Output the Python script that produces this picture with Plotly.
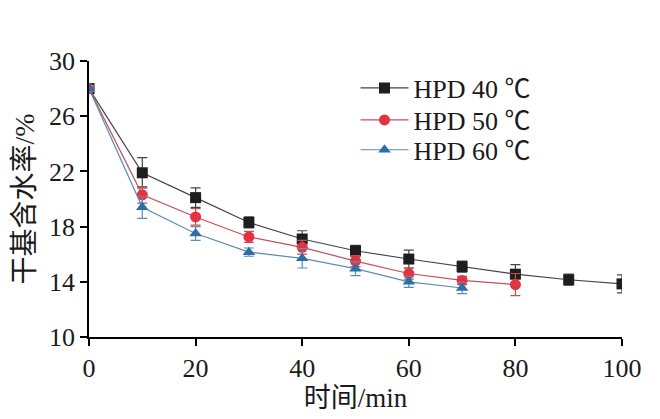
import plotly.graph_objects as go

t40 = [0, 10, 20, 30, 40, 50, 60, 70, 80, 90, 100]
y40 = [28.0, 21.9, 20.1, 18.3, 17.1, 16.25, 15.65, 15.1, 14.55, 14.15, 13.85]
e40 = [0.2, 1.1, 0.7, 0.4, 0.6, 0.4, 0.65, 0.4, 0.7, 0.4, 0.65]

t50 = [0, 10, 20, 30, 40, 50, 60, 70, 80]
y50 = [28.0, 20.3, 18.7, 17.25, 16.5, 15.5, 14.6, 14.1, 13.8]
e50 = [0.2, 0.6, 0.6, 0.4, 0.5, 0.4, 0.4, 0.3, 0.8]

t60 = [0, 10, 20, 30, 40, 50, 60, 70]
y60 = [28.0, 19.4, 17.5, 16.15, 15.7, 14.95, 14.0, 13.55]
e60 = [0.2, 0.8, 0.5, 0.3, 0.7, 0.5, 0.4, 0.4]

names = ["HPD 40 ℃", "HPD 50 ℃", "HPD 60 ℃"]

series = [
    (t40, y40, e40, names[0], "#1e1e1e", "#444444", "square", "legend"),
    (t50, y50, e50, names[1], "#e6323e", "#c2505c", "circle", "legend2"),
    (t60, y60, e60, names[2], "#2c6fa6", "#5b8db4", "triangle-up", "legend3"),
]

fig = go.Figure()
for x, y, e, nm, mc, lc, sym, lg in series:
    fig.add_trace(go.Scatter(
        x=x, y=y, name=nm, mode="lines+markers", legend=lg,
        line=dict(color=lc, width=1.2),
        marker=dict(symbol=sym, size=11, color=mc),
        error_y=dict(type="data", array=e, visible=True, color=lc, thickness=1.2, width=5),
    ))

font_main = "Liberation Serif, Times New Roman, Noto Sans CJK SC, serif"
ink = "#1a1a1a"

leg_common = dict(x=0.5, xanchor="left", yanchor="middle",
                  bgcolor="rgba(0,0,0,0)",
                  font=dict(family=font_main, size=26, color=ink), itemwidth=48)

fig.update_layout(
    width=660, height=419,
    margin=dict(l=89, r=38, t=61, b=82),
    paper_bgcolor="white", plot_bgcolor="white",
    font=dict(family=font_main, size=26, color=ink),
    showlegend=True,
    legend=dict(y=0.902, **leg_common),
    legend2=dict(y=0.786, **leg_common),
    legend3=dict(y=0.678, **leg_common),
    xaxis=dict(range=[0, 100], tickvals=[0, 20, 40, 60, 80, 100],
               tickfont=dict(family=font_main, size=26, color=ink),
               showline=True, linecolor="black", linewidth=1.5,
               ticks="outside", ticklen=7, tickwidth=1.5, tickcolor="black",
               showgrid=False, zeroline=False,
               title=dict(text="时间/min", standoff=3,
                          font=dict(family=font_main, size=27, color=ink))),
    yaxis=dict(range=[10, 30], tickvals=[10, 14, 18, 22, 26, 30],
               tickfont=dict(family=font_main, size=26, color=ink),
               showline=True, linecolor="black", linewidth=1.5,
               ticks="outside", ticklen=7, tickwidth=1.5, tickcolor="black",
               showgrid=False, zeroline=False,
               title=dict(text="干基含水率/%", standoff=6,
                          font=dict(family=font_main, size=28, color=ink))),
)

fig.write_html("out.html")
